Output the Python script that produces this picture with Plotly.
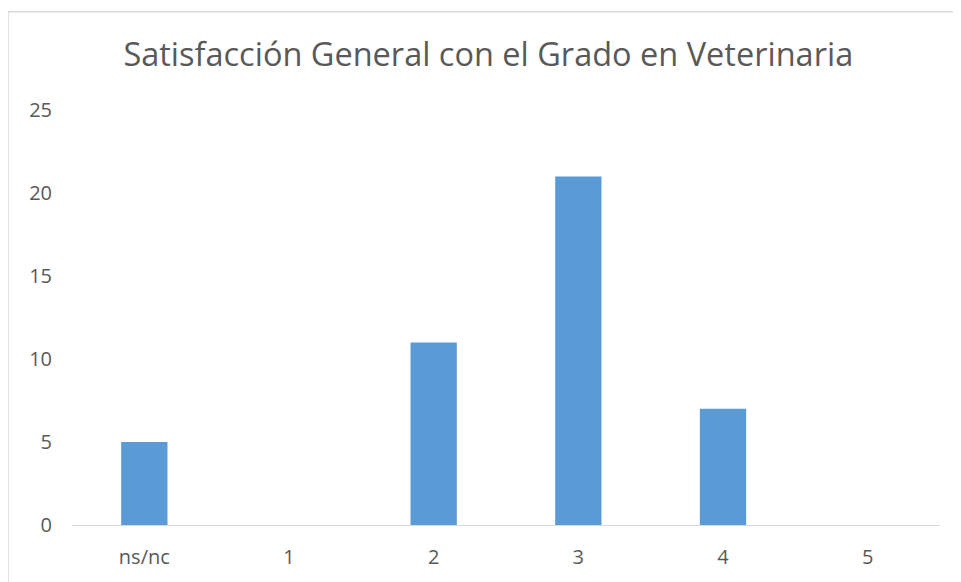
import plotly.graph_objects as go

# Datos
categorias = ["ns/nc", "1", "2", "3", "4", "5"]
respuestas = [5, 0, 11, 21, 7, 0]
ticks_y = [0, 5, 10, 15, 20, 25]

titulo = "Satisfacción General con el Grado en Veterinaria"
gris_texto = "#595959"
gris_linea = "#D9D9D9"

# la página deja 8 px de margen en el body, así que todo va desplazado 8 px
W, H = 953, 574

fig = go.Figure()
fig.add_trace(go.Bar(x=categorias, y=respuestas, marker_color="#5B9BD5",
                     marker_line_width=0, hoverinfo="x+y"))

fig.update_layout(
    width=W, height=H,
    margin=dict(l=64, r=21, t=102, b=54),
    paper_bgcolor="white", plot_bgcolor="white",
    bargap=0.68, showlegend=False,
    font=dict(family="Open Sans", color=gris_texto, size=20),
    title=dict(text=titulo, x=0.504, xanchor="center", y=1 - 47 / H,
               yanchor="middle", yref="container",
               font=dict(size=32.5, color=gris_texto)),
)
fig.update_xaxes(showline=True, linecolor=gris_linea, linewidth=1,
                 showgrid=False, ticks="", ticklabelstandoff=14,
                 tickfont=dict(size=20, color=gris_texto))
fig.update_yaxes(range=[0, 25], tickvals=ticks_y, showgrid=False,
                 zeroline=False, showline=False, ticks="",
                 ticklabelstandoff=19,
                 tickfont=dict(size=20, color=gris_texto))

# marco del área del gráfico (recortado a la derecha y abajo)
alto = H - 102 - 54
x0 = (0 - 64) / 868
y0 = (alto + 102 - 3) / alto
fig.add_shape(type="line", xref="paper", yref="paper", x0=x0, x1=1.1,
              y0=y0, y1=y0, line=dict(color=gris_linea, width=1.5))
fig.add_shape(type="line", xref="paper", yref="paper", x0=x0, x1=x0,
              y0=y0, y1=-0.2, line=dict(color=gris_linea, width=1.5))

fig.write_html("out.html")
